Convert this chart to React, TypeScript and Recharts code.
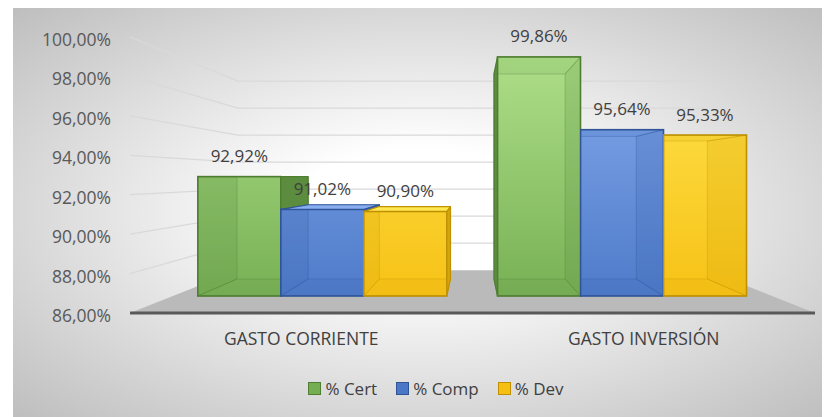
import React from 'react';
import { BarChart, Bar, XAxis, YAxis, CartesianGrid, Legend } from 'recharts';

// ---------- data ----------
const categories = ['GASTO CORRIENTE', 'GASTO INVERSIÓN'];
const certValues = [92.92, 99.86];
const compValues = [91.02, 95.64];
const devValues = [90.9, 95.33];
const seriesNames = ['% Cert', '% Comp', '% Dev'];
const seriesKeys = ['cert', 'comp', 'dev'];
const yTicks = [86, 88, 90, 92, 94, 96, 98, 100];

const data = categories.map((name, i) => ({
  name,
  cert: certValues[i],
  comp: compValues[i],
  dev: devValues[i],
}));

// ---------- layout ----------
const W = 817;
const H = 409;
const Y_AXIS_W = 117;
const X_AXIS_H = 30;
const LEGEND_H = 24;
const MARGIN = { top: 29, right: 15, bottom: 50, left: 0 };
const PLOT_L = MARGIN.left + Y_AXIS_W;
const PLOT_R = W - MARGIN.right;
const PLOT_T = MARGIN.top;
const PLOT_B = H - MARGIN.bottom - LEGEND_H - X_AXIS_H;
const Y_MIN = yTicks[0];
const Y_MAX = yTicks[yTicks.length - 1];

// perspective
const VX = (PLOT_L + PLOT_R) / 2;
const VY = PLOT_T + (PLOT_B - PLOT_T) * 0.507;
const WALL = 0.685;
const FRONT = 0.875;
const BACK = 0.75;

const PPU = (PLOT_B - PLOT_T) / (Y_MAX - Y_MIN);
const planeVal = (py: number) => {
  const ya = VY + (py - VY) / FRONT;
  return Y_MIN + (PLOT_B - ya) / PPU;
};
const BAR_DOMAIN = [planeVal(PLOT_B), planeVal(PLOT_T)];
const BAR_PAD = (VX - PLOT_L) * (1 - FRONT);

const FONT = '"Open Sans", "Noto Sans", sans-serif';

const PAL = [
  { top: '#b2e28c', bottom: '#74ad52', stroke: '#4f7d32', side: '#5c8c3e' },
  { top: '#89aef0', bottom: '#4a77c6', stroke: '#2f5597', side: '#3d66ad' },
  { top: '#ffe752', bottom: '#f6bf12', stroke: '#bf9000', side: '#d6a40b' },
];

const proj = (px: number, py: number, k: number) => [VX + (px - VX) * k, VY + (py - VY) * k];
const pts = (arr: number[][]) => arr.map((p) => p.join(',')).join(' ');

function makeShape(si: number) {
  return (props: any) => {
    const { x, y, width: w, height: h, index } = props;
    if (w == null || h == null || !(h > 0)) return null;
    const c = PAL[si];
    const k = BACK / FRONT;
    const fTL = [x, y], fTR = [x + w, y], fBR = [x + w, y + h], fBL = [x, y + h];
    const bTL = proj(x, y, k), bTR = proj(x + w, y, k), bBR = proj(x + w, y + h, k), bBL = proj(x, y + h, k);
    const gid = `grad-${si}-${index}`;
    const cid = `clip-${si}-${index}`;
    const useClip = si > 0 && x > VX;
    const leftExt = x > VX;
    const rightExt = x + w < VX;
    const topExt = y > VY;
    const faces = {
      left: [fTL, bTL, bBL, fBL],
      right: [fTR, bTR, bBR, fBR],
      top: [fTL, fTR, bTR, bTL],
      bottom: [fBL, fBR, bBR, bBL],
    };
    const internal: string[] = [];
    const external: string[] = [];
    (leftExt ? external : internal).push('left');
    (rightExt ? external : internal).push('right');
    (topExt ? external : internal).push('top');
    internal.push('bottom');
    return (
      <g clipPath={useClip ? `url(#${cid})` : undefined}>
        <defs>
          <linearGradient id={gid} gradientUnits="userSpaceOnUse" x1="0" y1={PLOT_T} x2="0" y2={PLOT_B}>
            <stop offset="0%" stopColor={c.top} />
            <stop offset="100%" stopColor={c.bottom} />
          </linearGradient>
          {useClip && (
            <clipPath id={cid}>
              <rect x={x - 0.5} y={0} width={2000} height={2000} />
            </clipPath>
          )}
        </defs>
        <polygon points={pts([bTL, bTR, bBR, bBL])} fill={`url(#${gid})`} />
        <rect x={x} y={y} width={w} height={h} fill={`url(#${gid})`} />
        {internal.map((f) => (
          <polygon
            key={f}
            points={pts((faces as any)[f])}
            fill={c.side}
            fillOpacity={f === 'bottom' || f === 'top' ? 0.12 : 0.22}
            stroke={c.stroke}
            strokeOpacity={0.3}
            strokeWidth={1}
          />
        ))}
        <rect x={x} y={y} width={w} height={h} fill="none" stroke={c.stroke} strokeWidth={1.6} />
        {external.map((f) => (
          <polygon
            key={f}
            points={pts((faces as any)[f])}
            fill={f === 'top' ? c.top : c.side}
            stroke={c.stroke}
            strokeWidth={1.2}
            strokeLinejoin="round"
          />
        ))}
      </g>
    );
  };
}

const fmt = (v: number) => v.toFixed(2).replace('.', ',') + '%';

const renderLabel = (props: any) => {
  const { x, y, width, value } = props;
  const v = Array.isArray(value) ? value[1] : value;
  if (v == null) return null;
  return (
    <text
      x={x + width / 2}
      y={y - 21}
      textAnchor="middle"
      dominantBaseline="central"
      fill="#404040"
      fontSize={17}
      fontFamily={FONT}
    >
      {fmt(Number(v))}
    </text>
  );
};

const gridLine = (p: any) => {
  const { x1, x2, y1 } = p;
  const bx1 = VX + (x1 - VX) * WALL;
  const bx2 = VX + (x2 - VX) * WALL;
  const by = VY + (y1 - VY) * WALL;
  if (y1 >= PLOT_B - 0.5) {
    return (
      <polygon
        key={p.key}
        points={pts([[x1, y1], [bx1, by], [bx2, by], [x2, y1]])}
        fill="#bababa"
      />
    );
  }
  return (
    <polyline
      key={p.key}
      points={pts([[x1, y1], [bx1, by], [bx2, by]])}
      fill="none"
      stroke="#d9d9d9"
      strokeWidth={1.3}
    />
  );
};

const renderXTick = (props: any) => {
  const { x, y, payload } = props;
  return (
    <text x={x} y={y + 25} textAnchor="middle" dominantBaseline="central" fill="#404040" fontSize={17.5} fontFamily={FONT}>
      {payload.value}
    </text>
  );
};

const renderYTick = (props: any) => {
  const { x, y, payload } = props;
  return (
    <text x={x} y={y + 2} textAnchor="end" dominantBaseline="central" fill="#595959" fontSize={17.5} fontFamily={FONT}>
      {fmt(Number(payload.value))}
    </text>
  );
};

const renderLegend = () => (
  <div
    style={{
      height: LEGEND_H,
      display: 'flex',
      justifyContent: 'center',
      alignItems: 'center',
      paddingLeft: 29,
      fontFamily: FONT,
      fontSize: 17,
      color: '#404040',
    }}
  >
    {seriesNames.map((n, i) => (
      <div key={n} style={{ display: 'flex', alignItems: 'center', marginLeft: i === 0 ? 0 : 19 }}>
        <span
          style={{
            display: 'inline-block',
            width: 11,
            height: 11,
            background: PAL[i].bottom,
            border: `1px solid ${PAL[i].stroke}`,
            marginRight: 4,
          }}
        />
        <span>{n}</span>
      </div>
    ))}
  </div>
);

export default function App() {
  return (
    <div
      style={{
        marginLeft: 5,
        width: W,
        height: H,
        position: 'relative',
        background:
          'radial-gradient(ellipse farthest-corner at 50% 50%, #ffffff 0%, #ffffff 22%, #bebebe 100%)',
      }}
    >
      <BarChart width={W} height={H} data={data} margin={MARGIN} barCategoryGap={25} barGap={0}>
        <CartesianGrid xAxisId="a" yAxisId="a" vertical={false} horizontal={gridLine} />
        <XAxis
          xAxisId="a"
          dataKey="name"
          height={X_AXIS_H}
          axisLine={{ stroke: '#595959', strokeWidth: 3 }}
          tickLine={false}
          tickSize={0}
          tickMargin={0}
          tick={renderXTick}
        />
        <XAxis xAxisId="b" dataKey="name" hide padding={{ left: BAR_PAD, right: BAR_PAD }} />
        <YAxis
          yAxisId="a"
          width={Y_AXIS_W}
          domain={[Y_MIN, Y_MAX]}
          ticks={yTicks}
          axisLine={false}
          tickLine={false}
          tickSize={0}
          tickMargin={19}
          tick={renderYTick}
          allowDataOverflow
        />
        <YAxis yAxisId="b" hide domain={BAR_DOMAIN} allowDataOverflow type="number" />
        <Legend
          verticalAlign="bottom"
          content={renderLegend}
          wrapperStyle={{ top: 368, bottom: 'auto', left: 0, width: W }}
        />
        {seriesKeys.map((key, si) => (
          <Bar
            key={key}
            name={seriesNames[si]}
            xAxisId="b"
            yAxisId="b"
            dataKey={(d: any) => [Y_MIN, d[key]]}
            fill={PAL[si].bottom}
            isAnimationActive={false}
            shape={makeShape(si)}
            label={renderLabel}
          />
        ))}
      </BarChart>
    </div>
  );
}
